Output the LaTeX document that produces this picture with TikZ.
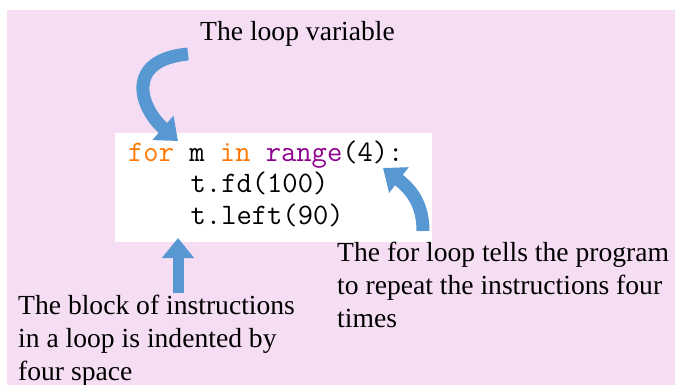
\documentclass[tikz,border=0pt]{standalone}
\usepackage{fontspec}
\setmainfont{Liberation Serif}
\usepackage{tikz}
\usetikzlibrary{positioning}
\usetikzlibrary{arrows.meta}

\definecolor{bgpink}{RGB}{245,222,244}
\definecolor{arrowblue}{RGB}{88,152,210}
\definecolor{kworange}{RGB}{255,119,0}
\definecolor{bipurple}{RGB}{144,0,144}

\begin{document}
\begin{tikzpicture}[x=1pt,y=-1pt,
    codeline/.style={anchor=base west, inner sep=0pt, font=\fontsize{29.7}{31}\selectfont\ttfamily},
    note/.style={anchor=north west, inner sep=0pt, align=left, font=\fontsize{27.6}{33}\selectfont},
    blockarrow/.style={draw=arrowblue, line width=13pt, -{Triangle[length=20pt,width=31pt]}}]
    \useasboundingbox (0,0) rectangle (675,385);
    \fill[bgpink] (7,10) rectangle (675,385);
    \fill[white] (115,133) rectangle (432,242);

    % the code
    \node[codeline] (forline) at (128,161) {\textcolor{kworange}{for} m \textcolor{kworange}{in} \textcolor{bipurple}{range}(4):};
    \node[codeline] (fdline) at (190.5,193) {t.fd(100)};
    \node[codeline] (leftline) at (190.5,224) {t.left(90)};

    % the notes
    \node[note] (varnote) at (200,21) {The loop variable};
    \node[note] (blocknote) at (18,295) {The block of instructions\\in a loop is indented by\\four space};
    \node[note] (fornote) at (337,242) {The for loop tells the program\\to repeat the instructions four\\times};

    % arrows
    \coordinate (vartail) at (188,54);
    \coordinate (vartip) at (178,141);
    \draw[blockarrow] (vartail) .. controls (124,60) and (140,108) .. (vartip);

    \coordinate (fortail) at (423,231);
    \coordinate (fortip) at (383,168);
    \draw[blockarrow] (fortail) .. controls (423,205) and (412,190) .. (fortip);

    \coordinate (blocktail) at (178,293);
    \coordinate (blocktip) at (178,238);
    \draw[blockarrow, line width=11pt] (blocktail) -- (blocktip);
\end{tikzpicture}
\end{document}
